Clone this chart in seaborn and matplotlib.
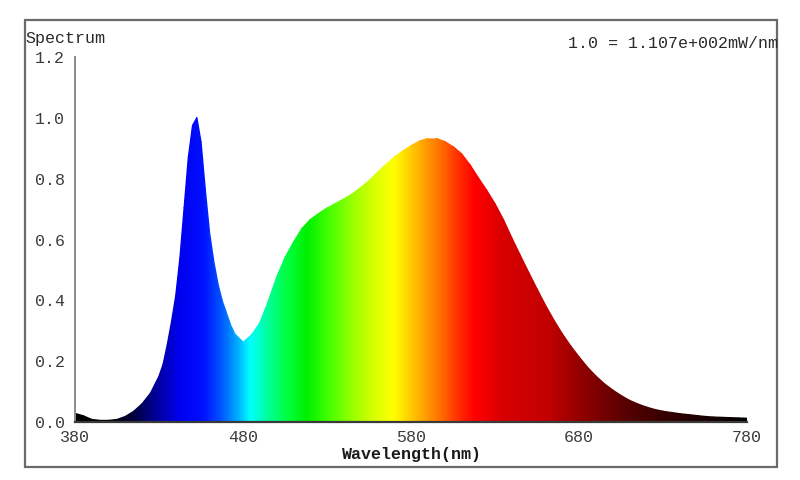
import numpy as np
import pandas as pd
import matplotlib
matplotlib.use("Agg")
import matplotlib.pyplot as plt
from matplotlib.colors import LinearSegmentedColormap
from matplotlib.patches import Polygon, Rectangle
import seaborn as sns

# ---------------- data ----------------
wavelength = [380, 385, 390, 395, 400, 405, 410, 415, 420, 425, 430, 432.5, 435,
              437.5, 440, 442.5, 445, 447.5, 450, 452.5, 455, 457.5, 460, 462.5,
              465, 467.5, 470, 472.5, 475, 480, 485, 490, 495,
              500, 505, 510, 515, 520, 525, 530, 535, 540, 545, 550, 555, 560, 565,
              570, 575, 580, 585, 590, 595, 600, 605, 610, 615, 620, 625, 630, 635,
              640, 645, 650, 655, 660, 665, 670, 675, 680, 685, 690, 695, 700, 705,
              710, 715, 720, 725, 730, 735, 740, 745, 750, 755, 760, 765, 770, 775, 780]
intensity = [0.028, 0.020, 0.008, 0.005, 0.005, 0.008, 0.018, 0.035, 0.060, 0.095,
             0.150, 0.190, 0.255, 0.330, 0.415, 0.540, 0.705, 0.870, 0.975, 1.000,
             0.920, 0.765, 0.625, 0.530, 0.455, 0.400, 0.360, 0.320,
             0.290, 0.262, 0.285, 0.325, 0.395, 0.475, 0.540, 0.590,
             0.635, 0.665, 0.685, 0.703, 0.718, 0.733, 0.749, 0.770, 0.793, 0.820,
             0.846, 0.870, 0.890, 0.908, 0.923, 0.932, 0.932, 0.922, 0.905, 0.882,
             0.846, 0.803, 0.762, 0.717, 0.665, 0.605, 0.548, 0.492, 0.437, 0.384,
             0.335, 0.290, 0.250, 0.214, 0.180, 0.151, 0.126, 0.105, 0.087, 0.071,
             0.059, 0.049, 0.041, 0.035, 0.031, 0.027, 0.024, 0.021, 0.018, 0.016,
             0.015, 0.014, 0.013, 0.012]
x_ticks = [380, 480, 580, 680, 780]
y_ticks = [0.0, 0.2, 0.4, 0.6, 0.8, 1.0, 1.2]
y_label = "Spectrum"
x_label = "Wavelength(nm)"
note = "1.0 = 1.107e+002mW/nm"

# ---------------- spectral colour stops (style) ----------------
color_stops = [(380, "#000000"), (402, "#000008"), (415, "#000040"), (428, "#00009a"),
               (442, "#0000f0"), (456, "#0010ff"), (466, "#0050ff"), (476, "#00a8ff"),
               (484, "#00ffff"), (494, "#00ffa0"), (506, "#00ff40"), (518, "#00f000"),
               (530, "#40ff00"), (545, "#98ff00"), (558, "#d8ff00"), (570, "#ffff00"),
               (582, "#ffc000"), (596, "#ff7800"), (608, "#ff3000"), (618, "#ff0000"),
               (635, "#d80000"), (662, "#c20000"), (682, "#900000"), (712, "#500000"),
               (750, "#200000"), (780, "#000000")]
lo, hi = 380.0, 780.0
cmap = LinearSegmentedColormap.from_list(
    "spec", [((w - lo) / (hi - lo), c) for w, c in color_stops], N=512)

# ---------------- figure ----------------
sns.set_style("white")
plt.rcParams["font.family"] = ["Liberation Mono", "DejaVu Sans Mono"]

fig = plt.figure(figsize=(8, 4.8), dpi=100)
ax = fig.add_axes([75 / 800, 1 - 422 / 480, 672 / 800, 365 / 480])

# outer frame
fig.patches.append(Rectangle((25 / 800, 1 - 467 / 480), 752 / 800, 447 / 480,
                             transform=fig.transFigure, fill=False,
                             edgecolor="#6a6a6a", linewidth=1.6))

# gradient fill clipped to the spectrum
verts = np.column_stack([np.r_[wavelength, wavelength[-1], wavelength[0]],
                         np.r_[intensity, 0.0, 0.0]])
clip = Polygon(verts, closed=True, facecolor="none", edgecolor="none",
               transform=ax.transData)
ax.add_patch(clip)
grad = np.linspace(lo, hi, 800).reshape(1, -1)
im = ax.imshow(grad, extent=[lo, hi, 0, 1.2], aspect="auto", cmap=cmap,
               vmin=lo, vmax=hi, origin="lower", interpolation="bilinear", zorder=1)
im.set_clip_path(clip)

# coloured outline drawn with seaborn (segment table built from the arrays)
rows = []
for i in range(len(wavelength) - 1):
    mid = 0.5 * (wavelength[i] + wavelength[i + 1])
    rows.append((i, wavelength[i], intensity[i], mid))
    rows.append((i, wavelength[i + 1], intensity[i + 1], mid))
seg = pd.DataFrame(rows, columns=["seg", "wl", "val", "mid"])
sns.lineplot(data=seg, x="wl", y="val", hue="mid", units="seg", estimator=None,
             palette=cmap, hue_norm=(lo, hi), legend=False, sort=False,
             linewidth=1.0, ax=ax, zorder=2)

ax.set_xlim(lo, hi)
ax.set_ylim(0, 1.2)
ax.set_xticks(x_ticks)
ax.set_yticks(y_ticks)
ax.set_yticklabels([f"{v:.1f}" for v in y_ticks])
ax.set_xlabel("")
ax.set_ylabel("")

for s in ["top", "right"]:
    ax.spines[s].set_visible(False)
ax.spines["left"].set_color("#8a8a8a")
ax.spines["left"].set_linewidth(1.4)
ax.spines["bottom"].set_color("#3a3a3a")
ax.spines["bottom"].set_linewidth(1.6)
ax.spines["bottom"].set_zorder(3)
ax.tick_params(axis="y", direction="out", length=4, width=1.2, color="#8a8a8a",
               pad=3, labelsize=12, labelcolor="#3c3c3c")
ax.tick_params(axis="x", direction="out", length=3, width=1.2, color="#3a3a3a",
               pad=3, labelsize=12, labelcolor="#3c3c3c")
ax.patch.set_alpha(0)

fig.text(25 / 800, 1 - 38 / 480, y_label, ha="left", va="center", fontsize=12,
         color="#2a2a2a")
fig.text(412 / 800, 1 - 454 / 480, x_label, ha="center", va="center", fontsize=12,
         fontweight="bold", color="#1a1a1a")
fig.text(568 / 800, 1 - 43 / 480, note, ha="left", va="center", fontsize=12,
         color="#2a2a2a")

fig.savefig("out.png", dpi=100)
